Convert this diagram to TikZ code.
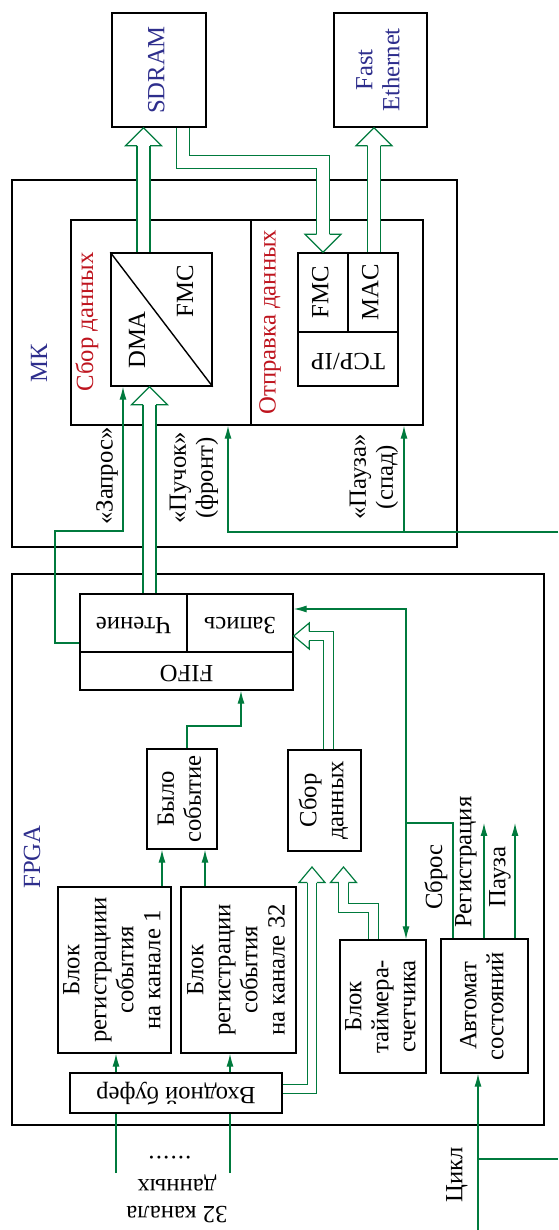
\documentclass[tikz,border=0pt]{standalone}
\usepackage{fontspec}
\setmainfont{Liberation Serif}
\usepackage{graphicx}
\usetikzlibrary{arrows.meta}
\definecolor{wire}{RGB}{0,122,61}
\definecolor{navy}{RGB}{46,46,140}
\definecolor{crim}{RGB}{190,20,30}
\newcommand\pxl{0.425pt}
\newcommand\vtxt[1]{\rotatebox{90}{\begin{tabular}{@{}c@{}}#1\end{tabular}}}
\newcommand\ftxt[1]{\rotatebox{180}{\begin{tabular}{@{}c@{}}#1\end{tabular}}}

\tikzset{
  box/.style 2 args={draw, line width=0.6pt, inner sep=0pt, minimum width=#1*\pxl, minimum height=#2*\pxl},
  sig/.style={draw=wire, line width=0.5pt, -{Latex[length=5.5pt,width=3pt]}},
  wireln/.style={draw=wire, line width=0.5pt},
  bigbus/.style={draw=wire, line width=0.5pt, double=white, double distance=5.03pt, shorten <=0.3pt, shorten >=7.65pt},
  smallbus/.style={draw=wire, line width=0.5pt, double=white, double distance=3.54pt, shorten <=0.3pt, shorten >=6.6pt},
  pics/bighead/.style={code={\draw[wire, line width=0.5pt] (-6.5,-18) -- (-18,-18) -- (0,0) -- (18,-18) -- (6.5,-18);}},
  pics/smallhead/.style={code={\draw[wire, line width=0.5pt] (-4.75,-15.5) -- (-13,-15.5) -- (0,0) -- (13,-15.5) -- (4.75,-15.5);}},
}

\begin{document}
\begin{tikzpicture}[x=0.425pt, y=0.425pt, font=\fontsize{10.5}{11.5}\selectfont]
    \useasboundingbox (0,0) rectangle (558,-1230);

    % external chips
    \node[box={94}{114}, text=navy] (sdram) at (159,-70) {\vtxt{SDRAM}};
    \node[box={93}{114}, text=navy] (eth) at (380.5,-70) {\vtxt{Fast\\Ethernet}};

    % microcontroller
    \node[box={445}{367}] (mk) at (234.5,-363.5) {};
    \node[text=navy, rotate=90] (mklbl) at (39,-363) {МК};
    \node[box={180}{205}] (collect) at (161,-322.5) {};
    \node[box={172}{205}] (send) at (337,-322.5) {};
    \node[text=crim, rotate=90] (collectlbl) at (87,-322) {Сбор данных};
    \node[text=crim, rotate=90] (sendlbl) at (270,-322) {Отправка данных};
    \node[box={101}{133}] (dma) at (161.5,-319.5) {};
    \draw[line width=0.6pt] (dma.north west) -- (dma.south east);
    \node[rotate=90] (dmalbl) at (137,-340) {DMA};
    \node[rotate=90] (fmclbl) at (185,-291) {FMC};
    \node[box={50}{79}] (fmcb) at (323,-292.5) {\vtxt{FMC}};
    \node[box={50}{79}] (mac) at (373,-292.5) {\vtxt{MAC}};
    \node[box={100}{54}] (tcp) at (348,-359) {\ftxt{TCP/IP}};

    % FPGA
    \node[box={532}{551}] (fpga) at (278,-849.5) {};
    \node[text=navy, rotate=90] (fpgalbl) at (32,-857) {FPGA};
    \node[box={107}{58}] (read) at (133.5,-623) {\ftxt{Чтение}};
    \node[box={106}{58}] (write) at (240,-623) {\ftxt{Запись}};
    \node[box={213}{38}] (fifo) at (186.5,-671) {\ftxt{FIFO}};
    \node[box={70}{100}] (event) at (182,-799) {\vtxt{Было\\событие}};
    \node[box={73}{101}] (gather) at (324.5,-800.5) {\vtxt{Сбор\\данных}};
    \node[box={113}{166}] (reg1) at (114.5,-970) {\vtxt{Блок\\регистрациии\\события\\на канале 1}};
    \node[box={115}{166}] (reg32) at (238.5,-970) {\vtxt{Блок\\регистрации\\события\\на канале 32}};
    \node[box={86}{133}] (timer) at (383,-1006.5) {\vtxt{Блок\\таймера-\\счетчика}};
    \node[box={87}{134}] (fsm) at (484.5,-1006) {\vtxt{Автомат\\состояний}};
    \node[box={212}{40}] (inbuf) at (176,-1093) {\ftxt{Входной буфер}};

    % signal labels
    \node[rotate=90] (reqlbl) at (107,-476) {«Запрос»};
    \node[rotate=90, align=center] (bunchlbl) at (194,-478) {«Пучок»\\(фронт)};
    \node[rotate=90, align=center] (pauselbl) at (374,-477) {«Пауза»\\(спад)};
    \node[rotate=90] (rstlbl) at (436,-877) {Сброс};
    \node[rotate=90] (reglbl) at (466,-862) {Регистрация};
    \node[rotate=90] (pslbl) at (500,-877) {Пауза};
    \node[rotate=90] (cyclbl) at (457,-1175) {Цикл};
    \node[rotate=180, inner sep=0pt] (dots) at (170,-1158) {.\kern0.5pt.\kern0.5pt.\kern0.5pt.\kern0.5pt.\kern0.5pt.};
    \node[rotate=180, align=center, inner sep=0pt] (chlbl) at (177,-1199) {32 канала\\данных};

    % buses
    \draw[bigbus] (dma.north -| 143.5,0) -- (sdram.south -| 143.5,0);
    \pic at (sdram.south -| 143.5,0) {bighead};
    \draw[bigbus] (sdram.south -| 183,0) |- (fmcb.north |- 0,-162) -- (fmcb.north);
    \pic[rotate=180] at (fmcb.north) {bighead};
    \draw[bigbus] (mac.north -| 374,0) -- (eth.south -| 374,0);
    \pic at (eth.south -| 374,0) {bighead};
    \draw[bigbus] (read.north -| 149.5,0) -- (dma.south -| 149.5,0);
    \pic at (dma.south -| 149.5,0) {bighead};
    \draw[smallbus] (gather.north -| 328.5,0) |- (write.east |- 0,-636);
    \pic[rotate=90] at (write.east |- 0,-636) {smallhead};
    \coordinate (bufend) at (312,-867);
    \draw[smallbus] (inbuf.east |- 0,-1089) -| (bufend);
    \pic at (bufend) {smallhead};
    \coordinate (timend) at (343.5,-867);
    \draw[smallbus] (timer.north -| 373.5,0) |- (timend |- 0,-908) -- (timend);
    \pic at (timend) {smallhead};

    % thin signals
    \draw[sig] (read.west |- 0,-643) -- (55,-643) |- (123,-531) -- (dma.south -| 123,0);
    \coordinate (pulse) at (558,-532);
    \coordinate (pbranch) at (404,-532);
    \draw[sig] (pulse) -| (collect.south -| 228,0);
    \draw[sig] (pbranch) -- (send.south -| pbranch);
    \draw[sig] (event.north -| 187,0) |- (241,-726) -- (fifo.south -| 241,0);
    \draw[sig] (reg1.north -| 162,0) -- (event.south -| 162,0);
    \draw[sig] (reg32.north -| 205,0) -- (event.south -| 205,0);
    \draw[sig] (inbuf.north -| 116,0) -- (reg1.south -| 116,0);
    \draw[sig] (inbuf.north -| 230,0) -- (reg32.south -| 230,0);
    \coordinate (ch1) at (116,-1173);
    \coordinate (ch32) at (230,-1173);
    \draw[wireln] (ch1) -- (inbuf.south -| ch1);
    \draw[wireln] (ch32) -- (inbuf.south -| ch32);
    \coordinate (rst) at (406,-823);
    \coordinate (regend) at (484,-823);
    \coordinate (psend) at (515,-823);
    \draw[wireln] (fsm.north -| 453,0) |- (rst);
    \draw[sig] (rst) |- (write.east |- 0,-609);
    \draw[sig] (rst) -- (timer.north -| rst);
    \draw[sig] (fsm.north -| regend) -- (regend);
    \draw[sig] (fsm.north -| psend) -- (psend);
    \coordinate (cyc) at (478,-1230);
    \coordinate (cycend) at (558,-1159);
    \draw[sig] (cyc) -- (fsm.south -| cyc);
    \draw[wireln] (cyc |- cycend) -- (cycend);
\end{tikzpicture}
\end{document}
